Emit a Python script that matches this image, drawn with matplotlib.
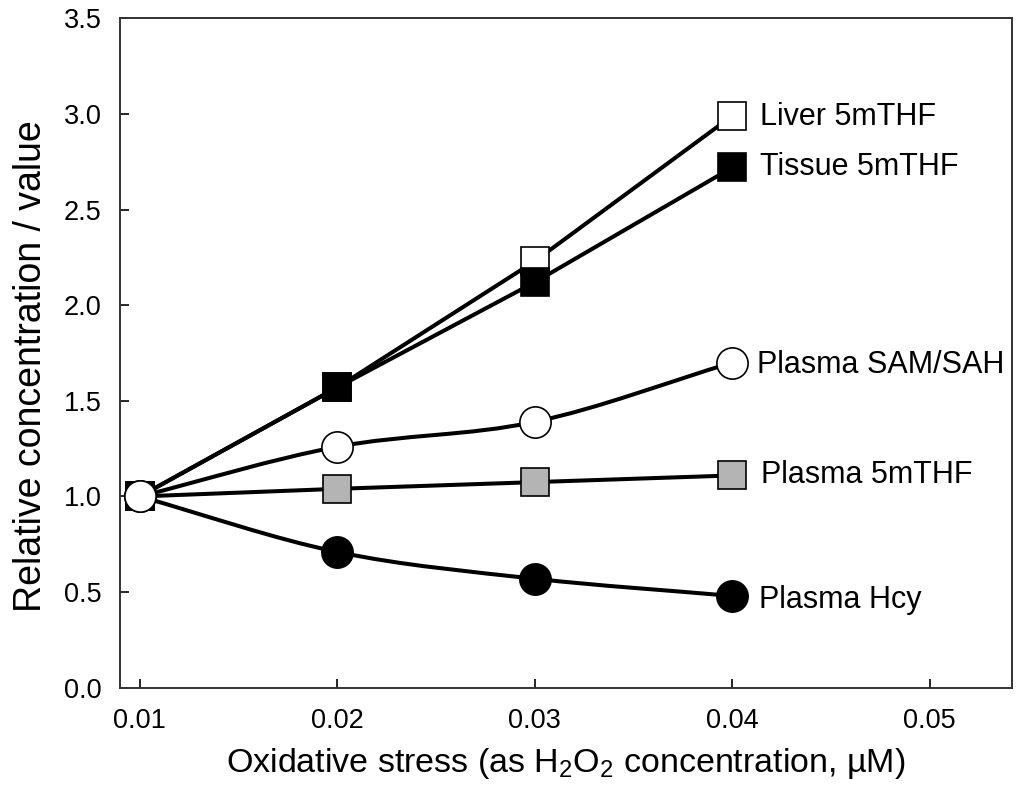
import matplotlib
matplotlib.use("Agg")
import numpy as np
import matplotlib.pyplot as plt
from matplotlib.path import Path
from matplotlib.patches import PathPatch

plt.rcParams['font.family'] = ['Liberation Sans', 'DejaVu Sans']
plt.rcParams['mathtext.fontset'] = 'custom'
plt.rcParams['mathtext.rm'] = 'Liberation Sans'
plt.rcParams['mathtext.it'] = 'Liberation Sans:italic'

# data
stress = [0.01, 0.02, 0.03, 0.04]
liver_5mthf = [1.0, 1.57, 2.23, 2.99]
tissue_5mthf = [1.0, 1.57, 2.12, 2.72]
plasma_sam_sah = [1.0, 1.26, 1.39, 1.70]
plasma_5mthf = [1.0, 1.04, 1.075, 1.11]
plasma_hcy = [1.0, 0.71, 0.57, 0.48]

x_ticks = [0.01, 0.02, 0.03, 0.04, 0.05]
y_ticks = [0.0, 0.5, 1.0, 1.5, 2.0, 2.5, 3.0, 3.5]


def smooth_path(x, y):
    """catmull-rom through the points, as bezier segments"""
    x = np.asarray(x, float)
    y = np.asarray(y, float)
    px = np.concatenate([[2 * x[0] - x[1]], x, [2 * x[-1] - x[-2]]])
    py = np.concatenate([[2 * y[0] - y[1]], y, [2 * y[-1] - y[-2]]])
    verts = [(x[0], y[0])]
    codes = [Path.MOVETO]
    for i in range(1, len(px) - 2):
        c1 = (px[i] + (px[i + 1] - px[i - 1]) / 6, py[i] + (py[i + 1] - py[i - 1]) / 6)
        c2 = (px[i + 1] - (px[i + 2] - px[i]) / 6, py[i + 1] - (py[i + 2] - py[i]) / 6)
        verts += [c1, c2, (px[i + 1], py[i + 1])]
        codes += [Path.CURVE4] * 3
    return Path(verts, codes)


fig = plt.figure(figsize=(10.24, 7.96), dpi=100)
ax = fig.add_axes([0.117, 0.136, 0.871, 0.841])

lw = 2.9

# series: (values, marker, face, size, smooth, label, label offset in points)
series = [
    (plasma_5mthf, 's', '#b4b4b4', 20, False, 'Plasma 5mTHF', (21, 0)),
    (plasma_hcy, 'o', 'black', 22.5, True, 'Plasma Hcy', (19, -3)),
    (liver_5mthf, 's', 'white', 20, False, 'Liver 5mTHF', (20, -1)),
    (tissue_5mthf, 's', 'black', 20, False, 'Tissue 5mTHF', (20, 0)),
    (plasma_sam_sah, 'o', 'white', 22.5, True, 'Plasma SAM/SAH', (18, -2)),
]

for vals, marker, face, size, smooth, label, off in series:
    if smooth:
        ax.add_patch(PathPatch(smooth_path(stress, vals), fill=False,
                               edgecolor='black', linewidth=lw, zorder=2))
    else:
        ax.plot(stress, vals, color='black', linewidth=lw, zorder=2)
    ax.plot(stress, vals, linestyle='none', marker=marker, markersize=size,
            markerfacecolor=face, markeredgecolor='black',
            markeredgewidth=1.2, zorder=3)
    ax.annotate(label, xy=(stress[-1], vals[-1]), xytext=off,
                textcoords='offset points', ha='left', va='center', fontsize=22)

ax.set_xlim(0.00899, 0.05415)
ax.set_ylim(0, 3.5)
ax.set_xticks(x_ticks)
ax.set_xticklabels([f"{t:.2f}" for t in x_ticks])
ax.set_yticks(y_ticks)
ax.set_yticklabels([f"{t:.1f}" for t in y_ticks])
ax.tick_params(direction='in', length=6.5, width=1.2, labelsize=19.5)
ax.tick_params(axis='x', pad=14.5)
ax.tick_params(axis='y', pad=13)
for s in ax.spines.values():
    s.set_linewidth(1.4)
    s.set_color('#333333')

ax.set_xlabel(r'Oxidative stress (as H$_\mathregular{2}$O$_\mathregular{2}$ concentration, µM)',
              fontsize=24.5, labelpad=9)
ax.set_ylabel('Relative concentration / value', fontsize=27)
ax.yaxis.set_label_coords(-0.079, 0.48)

fig.savefig('out.png', dpi=100)
